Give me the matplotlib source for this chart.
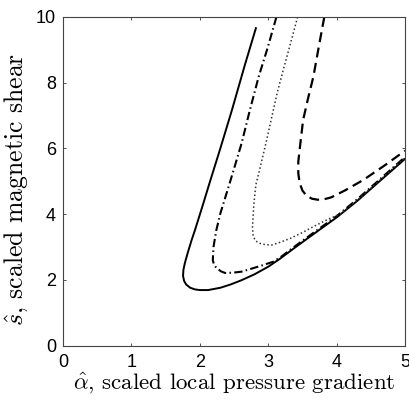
import numpy as np
import matplotlib
matplotlib.use("Agg")
import matplotlib.pyplot as plt

plt.rcParams['mathtext.fontset'] = 'cm'
plt.rcParams['font.family'] = ['Liberation Sans', 'DejaVu Sans']

# curvas (alpha, s)
solid_x = [2.82, 2.66, 2.47, 2.30, 2.15, 2.04, 1.93, 1.88, 1.82, 1.78, 1.76, 1.755,
           1.77, 1.80, 1.86, 1.93, 2.00, 2.12, 2.30, 2.45, 2.61, 2.80, 3.00, 3.17,
           3.35, 3.60, 4.00, 4.30, 4.60, 5.00]
solid_y = [9.66, 8.55, 7.17, 6.00, 5.00, 4.25, 3.52, 3.21, 2.80, 2.50, 2.30, 2.12,
           1.97, 1.86, 1.76, 1.71, 1.69, 1.69, 1.76, 1.86, 1.99, 2.17, 2.40, 2.64,
           2.92, 3.30, 3.90, 4.40, 4.95, 5.68]

dashdot_x = [3.12, 2.99, 2.86, 2.73, 2.61, 2.51, 2.42, 2.30, 2.24, 2.20, 2.19, 2.21,
             2.25, 2.31, 2.37, 2.49, 2.61, 2.69, 2.88, 3.07, 3.20, 3.35, 3.60, 4.00,
             4.30, 4.60, 5.00]
dashdot_y = [10.0, 9.05, 8.18, 7.15, 6.15, 5.45, 4.83, 4.02, 3.50, 3.00, 2.60, 2.45,
             2.35, 2.26, 2.21, 2.22, 2.25, 2.30, 2.42, 2.55, 2.72, 2.96, 3.34, 3.94,
             4.45, 5.00, 5.74]

dotted_x = [3.43, 3.30, 3.22, 3.13, 3.03, 2.96, 2.88, 2.82, 2.79, 2.77, 2.78, 2.82,
            2.88, 2.96, 3.05, 3.17, 3.32, 3.50, 3.66, 3.85, 4.05, 4.30, 4.60, 5.00]
dotted_y = [10.0, 9.0, 8.39, 7.68, 6.75, 6.10, 5.40, 4.90, 4.30, 3.60, 3.32, 3.18,
            3.11, 3.07, 3.06, 3.14, 3.26, 3.44, 3.62, 3.82, 4.00, 4.42, 4.97, 5.72]

dashed_x = [3.82, 3.74, 3.66, 3.58, 3.51, 3.47, 3.44, 3.44, 3.46, 3.50, 3.56, 3.64,
            3.72, 3.81, 3.92, 4.12, 4.39, 4.70, 5.00]
dashed_y = [10.0, 9.1, 8.18, 7.5, 6.86, 6.15, 5.6, 5.24, 4.95, 4.72, 4.56, 4.47,
            4.44, 4.45, 4.51, 4.72, 5.04, 5.48, 5.93]

xticks = [0, 1, 2, 3, 4, 5]
yticks = [0, 2, 4, 6, 8, 10]

fig = plt.figure(figsize=(4.1, 4.0), dpi=100)
ax = fig.add_axes([0.1537, 0.136, 0.8341, 0.8215])

ax.plot(solid_x, solid_y, '-', color='black', lw=1.4)
ax.plot(dashdot_x, dashdot_y, color='black', lw=1.5, dashes=(4, 1.6, 0.7, 1.6))
ax.plot(dotted_x, dotted_y, color='#333333', lw=1.1, dashes=(1, 1.6))
ax.plot(dashed_x, dashed_y, color='black', lw=1.6, dashes=(4.5, 2.5))

ax.set_xlim(0, 5)
ax.set_ylim(0, 10)
ax.set_xticks(xticks)
ax.set_yticks(yticks)
ax.tick_params(direction='in', length=2.5, width=0.6, top=True, right=True,
               labelsize=13, pad=5, color='#333333')
ax.tick_params(axis='x', pad=6)
for s in ax.spines.values():
    s.set_linewidth(0.8)
    s.set_color('#444444')

ax.set_xlabel(r'$\hat{\alpha}$, scaled local pressure gradient',
              family='cmr10', fontsize=16.5, labelpad=0)
ax.set_ylabel(r'$\hat{s}$, scaled magnetic shear',
              family='cmr10', fontsize=18.5)
ax.yaxis.set_label_coords(-0.098, 0.475)

fig.savefig('out.png', dpi=100)
